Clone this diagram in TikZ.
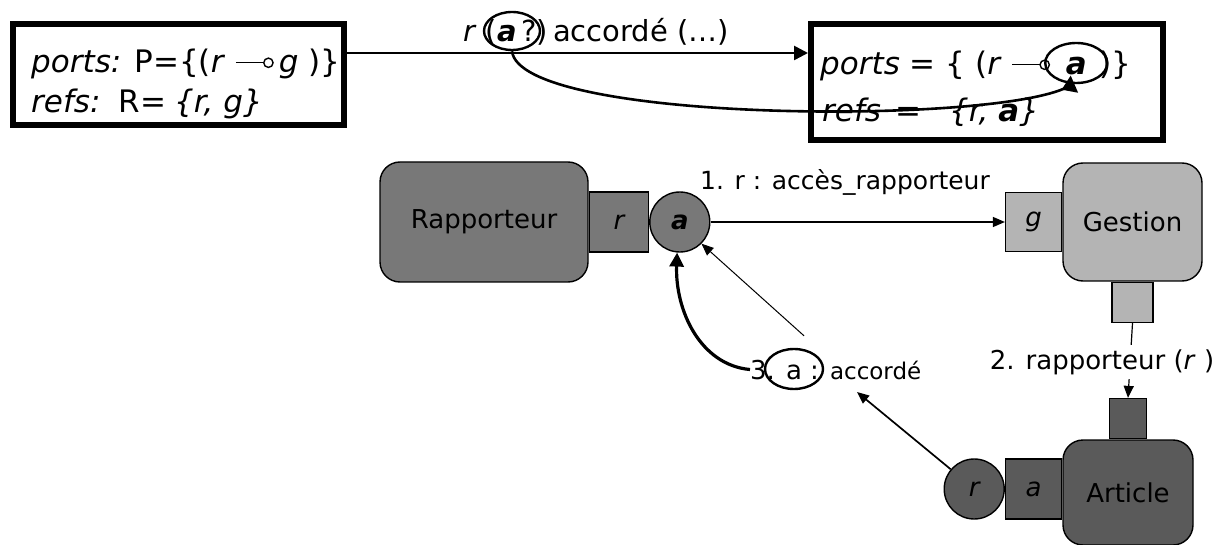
\documentclass[tikz,border=0pt]{standalone}
\usepackage{fontspec}
\setmainfont{DejaVu Sans}
\usetikzlibrary{shapes.geometric,arrows.meta}
\definecolor{grisfonce}{RGB}{90,90,90}
\definecolor{grismoyen}{RGB}{120,120,120}
\definecolor{grisclair}{RGB}{180,180,180}
% lien port -o ref
\newcommand{\sucette}{\tikz[baseline=0pt]{\draw[line width=1.4pt] (0,0.33em) -- (0.9em,0.33em); \draw[line width=1.4pt] (1.05em,0.33em) circle (0.15em);}}
\begin{document}
\begin{tikzpicture}[x=1pt,y=-1pt,
  cadre/.style={draw,line width=6pt,inner sep=0pt},
  compo/.style={draw,line width=1.4pt,rounded corners=20pt,font=\fontsize{26}{30}\selectfont},
  port/.style={draw,line width=1.4pt,inner sep=0pt,font=\fontsize{26}{30}\selectfont\itshape},
  ovale/.style={draw,ellipse,line width=2.4pt,inner sep=0pt},
  grand/.style={font=\fontsize{31}{36}\selectfont,inner sep=0pt},
  etiq/.style={font=\fontsize{25}{30}\selectfont,inner sep=0pt},
  fleche/.style={-{Triangle[length=14pt,width=14pt]}},
  petite/.style={-{Triangle[length=12pt,width=10pt]}}]
\useasboundingbox (0,0) rectangle (1231,545);

% avant / apres
\node[cadre,minimum width=331,minimum height=101] (avant) at (178.5,74.5) {};
\node[grand,anchor=base west] (avantP) at (31,73) {\textit{ports:} P=\{(\textit{r} \sucette\,\textit{g} )\}};
\node[grand,anchor=base west] (avantR) at (31,113) {\textit{refs:}\hspace{18pt}R=\hspace{8pt}\textit{\{r, g\}}};

\node[cadre,minimum width=352,minimum height=116] (apres) at (987,82) {};
\node[grand,anchor=base west] (apresP) at (820,75) {\textit{ports} = \{ (\textit{r} \sucette};
\coordinate (finP) at (apresP.east |- 0,63);
\node[ovale,minimum width=62,minimum height=40] (ovD) at ([xshift=26pt]finP) {};
\node[grand,anchor=base] (aD) at (ovD.center |- apresP.base) {\textbf{\textit{a}}};
\coordinate (finD) at (ovD.east |- apresP.base);
\node[grand,anchor=base west] (apresF) at ([xshift=-9pt]finD) {)\}};
\node[grand,anchor=base west] (apresR) at (822,122) {\textit{refs}\hspace{14pt}=\hspace{28pt}\textit{\{r, \textbf{a}\}}};

\node[font=\fontsize{29}{34}\selectfont,inner sep=0pt,anchor=base west] (haut) at (463,42) {\textit{r} (\textbf{\textit{a}}\,?)\,accordé (…)};
\node[ovale,minimum width=56,minimum height=38] (ovH) at (512,31) {};

\draw[line width=2.6pt,fleche] ([yshift=21.5pt]avant.east) -- ([yshift=21.5pt]avant.east -| apres.west);
\draw[line width=2.6pt,-{Triangle[reversed,length=14pt,width=18pt]}] (ovH.south) .. controls (520,122) and (980,125) .. (ovD.-95);

% composants
\node[compo,fill=grismoyen,minimum width=208,minimum height=120] (rapp) at (484,222) {Rapporteur};
\node[port,fill=grismoyen,minimum width=59,minimum height=60,anchor=west] (pr) at (rapp.east) {r};
\node[circle,draw,line width=1.4pt,fill=grismoyen,minimum size=60,inner sep=0pt,anchor=west,font=\fontsize{26}{30}\selectfont\bfseries\itshape] (ca) at (pr.east) {a};

\node[compo,fill=grisclair,minimum width=139,minimum height=118] (gest) at (1132.5,222) {Gestion};
\node[port,fill=grisclair,minimum width=56,minimum height=59,anchor=east] (pg) at (gest.west) {g};
\node[port,fill=grisclair,minimum width=41,minimum height=40,anchor=north] (pgb) at (gest.south) {};

\node[compo,fill=grisfonce,minimum width=130,minimum height=105] (art) at (1128,492.5) {Article};
\node[port,fill=grisfonce,minimum width=37,minimum height=40,anchor=south] (pat) at (art.north) {};
\node[port,fill=grisfonce,minimum width=56,minimum height=60,anchor=east] (pa) at ([yshift=3.5pt]art.west) {a};
\node[circle,draw,line width=1.4pt,fill=grisfonce,minimum size=60,inner sep=0pt,anchor=east,font=\fontsize{26}{30}\selectfont\itshape] (cr) at (pa.west) {r};

% messages
\draw[line width=1.2pt,petite] (ca.east) -- (pg.west);
\node[etiq,anchor=base west] (msg1) at (700,190) {1. r : accès\_rapporteur};

\draw[line width=1.2pt,petite] (pgb.south) -- (pat.north);
\node[etiq,fill=white,inner sep=4pt,font=\fontsize{26}{30}\selectfont] (msg2) at (1102,362) {2. rapporteur (\textit{r} )};

\node[font=\fontsize{26}{30}\selectfont,inner sep=0pt,anchor=base west] (msg3) at (750,379) {3. a : {\fontsize{23}{27}\selectfont accordé}};
\node[ovale,minimum width=58,minimum height=40] (ov3) at (794,369) {};
\coordinate (pointe3) at (857,392);

\draw[line width=1.7pt,petite] (cr.140) -- (pointe3);
\draw[line width=1pt,petite] ([xshift=10pt,yshift=12pt]ov3.north) -- (ca.-45);
\draw[line width=3.2pt,fleche] (msg3.west) .. controls (700,365) and (675,310) .. (ca.-95);
\end{tikzpicture}
\end{document}
